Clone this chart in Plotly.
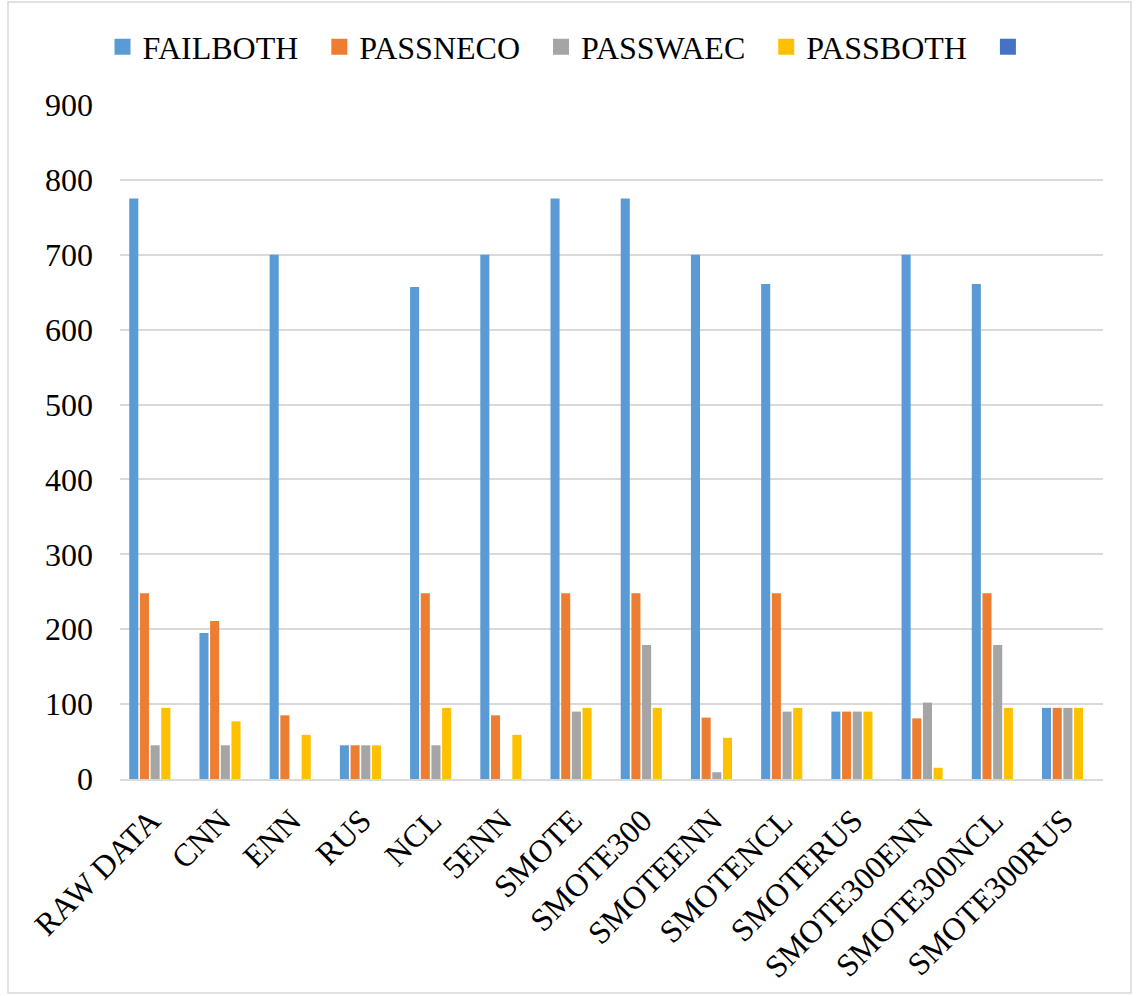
import plotly.graph_objects as go

# Method names along the x axis
categories = ["RAW DATA", "CNN", "ENN", "RUS", "NCL", "5ENN", "SMOTE", "SMOTE300",
              "SMOTEENN", "SMOTENCL", "SMOTERUS", "SMOTE300ENN", "SMOTE300NCL", "SMOTE300RUS"]

# Counts per outcome group
failboth = [775, 195, 700, 45, 657, 700, 775, 775, 700, 661, 90, 700, 661, 95]
passneco = [248, 211, 85, 45, 248, 85, 248, 248, 82, 248, 90, 81, 248, 95]
passwaec = [45, 45, 0, 45, 45, 0, 90, 179, 9, 90, 90, 102, 179, 95]
passboth = [95, 77, 59, 45, 95, 59, 95, 95, 55, 95, 90, 15, 95, 95]
extra = [None] * len(categories)  # fifth series with no values

y_ticks = [0, 100, 200, 300, 400, 500, 600, 700, 800, 900]

series = [
    ("FAILBOTH", failboth, "#5B9BD5"),
    ("PASSNECO", passneco, "#ED7D31"),
    ("PASSWAEC", passwaec, "#A5A5A5"),
    ("PASSBOTH", passboth, "#FFC000"),
    ("", extra, "#4472C4"),
]

FONT = "Liberation Serif, Times New Roman, serif"
NB = "\u00a0\u00a0"

fig = go.Figure()
for name, vals, color in series:
    fig.add_trace(go.Bar(
        x=categories, y=vals, name=name, marker_color=color,
        marker_line_width=0, showlegend=False,
    ))

# Legend entries with larger square swatches
for name, vals, color in series:
    fig.add_trace(go.Scatter(
        x=[None], y=[None], mode="markers", name=(name + NB) if name else NB,
        marker=dict(symbol="square", size=16, color=color),
        showlegend=True, hoverinfo="skip",
    ))

L, R, T, B = 120, 35, 105, 217
W, H = 1138, 996
pw, ph = W - L - R, H - T - B

fig.update_layout(
    width=W, height=H,
    margin=dict(l=L, r=R, t=T, b=B),
    paper_bgcolor="white", plot_bgcolor="white",
    barmode="group", bargap=0.24, bargroupgap=0.15,
    font=dict(family=FONT, size=32, color="black"),
    legend=dict(
        orientation="h", x=(576 - L) / pw, xanchor="center",
        y=1 + (T - 47) / ph, yanchor="middle",
        font=dict(family=FONT, size=32, color="black"),
        itemsizing="trace", bgcolor="rgba(0,0,0,0)",
    ),
    xaxis=dict(
        type="category", tickangle=-45, showgrid=False,
        showline=True, linecolor="#D9D9D9", linewidth=2,
        ticks="", ticklabelstandoff=8, ticklabelshift=-4,
        tickfont=dict(family=FONT, size=32, color="black"),
    ),
    yaxis=dict(
        range=[0, 900], tickvals=y_ticks, ticktext=[str(v) for v in y_ticks],
        showgrid=True, gridcolor="#D9D9D9", gridwidth=2,
        zeroline=False, showline=False, ticks="",
        ticklabelstandoff=26,
        tickfont=dict(family=FONT, size=32, color="black"),
    ),
    shapes=[dict(
        type="rect", xref="paper", yref="paper",
        x0=(8 - L) / pw, x1=(1131 - L) / pw,
        y0=-(H - 3 - (H - B)) / ph, y1=1 + (T - 2) / ph,
        line=dict(color="#D9D9D9", width=1.5), fillcolor="rgba(0,0,0,0)",
        layer="below",
    )],
)

fig.write_html("out.html")
